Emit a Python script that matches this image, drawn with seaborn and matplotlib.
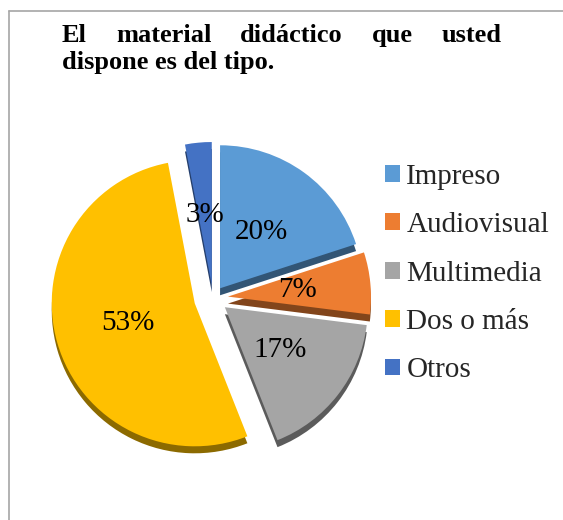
import matplotlib
matplotlib.use("Agg")
import matplotlib.pyplot as plt
import matplotlib.colors as mcolors
from matplotlib.lines import Line2D
import seaborn as sns

# data
categories = ["Impreso", "Audiovisual", "Multimedia", "Dos o más", "Otros"]
percentages = [20, 7, 17, 53, 3]
colors = ["#5B9BD5", "#ED7D31", "#A5A5A5", "#FFC000", "#4472C4"]
explode = [0.084, 0.105, 0.105, 0.133, 0.091]
title_line1 = ["El", "material", "didáctico", "que", "usted"]
title_line2 = "dispone es del tipo."

sns.set_theme(style="white")
plt.rcParams["font.family"] = ["Liberation Serif", "DejaVu Serif"]

W, H = 563, 520
fig = plt.figure(figsize=(W / 100, H / 100), dpi=100)
fig.patch.set_facecolor("white")

# pie axes: centre at (213, 298) px, radius 143 px
r_px = 143
side = 2.5 * r_px
cx, cy = 213, 298
ax = fig.add_axes([(cx - side / 2) / W, (H - cy - side / 2) / H, side / W, side / H])

# darker copy shifted down gives the 3D depth edge
shade = [tuple(c * 0.55 for c in mcolors.to_rgb(col)) for col in sns.color_palette(colors)]
ax.pie(percentages, colors=shade, explode=explode, startangle=90, counterclock=False,
       center=(0, -7 / r_px), wedgeprops=dict(linewidth=0))
wedges, texts, autotexts = ax.pie(
    percentages, colors=sns.color_palette(colors), explode=explode, startangle=90,
    counterclock=False, autopct="%1.0f%%", pctdistance=0.49,
    wedgeprops=dict(linewidth=0), textprops=dict(fontsize=21, color="black"))
ax.set_xlim(-1.25, 1.25)
ax.set_ylim(-1.25, 1.25)
ax.set_aspect("equal")
ax.axis("off")

# justified bold title
renderer = fig.canvas.get_renderer()
words = [fig.text(0, 1 - 42 / H, w, fontsize=19, fontweight="bold", va="baseline", color="black")
         for w in title_line1]
widths = [t.get_window_extent(renderer).width for t in words]
gap = (502 - 62 - sum(widths)) / (len(words) - 1)
x = 62
for t, w in zip(words, widths):
    t.set_x(x / W)
    x += w + gap
fig.text(62 / W, 1 - 69 / H, title_line2, fontsize=19, fontweight="bold", va="baseline", color="black")

fig.legend(wedges, categories, loc="center left", bbox_to_anchor=(385 / W, 1 - 273.5 / H),
           frameon=False, fontsize=21, handlelength=0.51, handleheight=0.51,
           handletextpad=0.22, labelspacing=0.77, borderpad=0, borderaxespad=0)

# chart area border (left and top edges visible)
fig.add_artist(Line2D([8.5 / W, 8.5 / W], [0, 1 - 11 / H], transform=fig.transFigure,
                      color="#A6A6A6", lw=1.2))
fig.add_artist(Line2D([8.5 / W, 1], [1 - 11 / H, 1 - 11 / H], transform=fig.transFigure,
                      color="#A6A6A6", lw=1.2))

fig.savefig("out.png", dpi=100)
